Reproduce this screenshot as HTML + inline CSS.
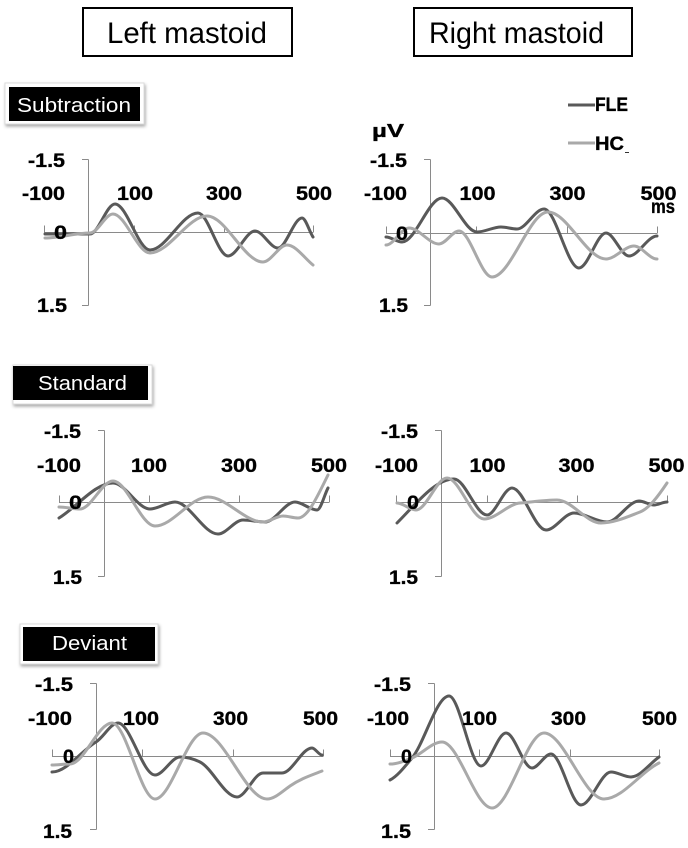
<!DOCTYPE html>
<html><head><meta charset="utf-8"><style>
html,body{margin:0;padding:0;background:#fff;}
svg{display:block;}
text{font-family:"Liberation Sans",sans-serif;}
.t{font-size:19px;font-weight:bold;fill:#000;stroke:#000;stroke-width:0.35;}
.ax{stroke:#8a8a8a;stroke-width:1;fill:none;shape-rendering:crispEdges;}
.fle{stroke:#595959;stroke-width:3;fill:none;stroke-linejoin:round;stroke-linecap:round;}
.hc{stroke:#a9a9a9;stroke-width:3;fill:none;stroke-linejoin:round;stroke-linecap:round;}
.lab{font-size:20px;fill:#fff;}
.ttl{font-size:30px;fill:#000;}
</style></head><body>
<svg width="688" height="848" viewBox="0 0 688 848" xmlns="http://www.w3.org/2000/svg">
<defs>
<filter id="sh" x="-10%" y="-20%" width="130%" height="160%">
<feDropShadow dx="1" dy="2" stdDeviation="1.5" flood-color="#000" flood-opacity="0.35"/>
</filter>
</defs>

<!-- Titles -->
<rect x="83" y="8" width="209" height="48" fill="#fff" stroke="#000" stroke-width="2"/>
<text class="ttl" x="107" y="43" textLength="160" lengthAdjust="spacingAndGlyphs">Left mastoid</text>
<rect x="414" y="8" width="218" height="48" fill="#fff" stroke="#000" stroke-width="2"/>
<text class="ttl" x="429" y="43" textLength="175" lengthAdjust="spacingAndGlyphs">Right mastoid</text>

<!-- Section labels -->
<rect x="5" y="83" width="139" height="41" fill="#fff" stroke="#dcdcdc" stroke-width="1" filter="url(#sh)"/>
<rect x="9" y="87" width="131" height="34" fill="#000"/>
<text class="lab" x="17" y="112" textLength="114" lengthAdjust="spacingAndGlyphs">Subtraction</text>

<rect x="13" y="365" width="139" height="39" fill="#fff" stroke="#dcdcdc" stroke-width="1" filter="url(#sh)"/>
<rect x="13" y="366" width="135" height="34" fill="#000"/>
<text class="lab" x="38" y="390" textLength="89" lengthAdjust="spacingAndGlyphs">Standard</text>

<rect x="20" y="624" width="138" height="40" fill="#fff" stroke="#dcdcdc" stroke-width="1" filter="url(#sh)"/>
<rect x="23" y="627" width="132" height="34" fill="#000"/>
<text class="lab" x="52" y="650" textLength="75" lengthAdjust="spacingAndGlyphs">Deviant</text>

<!-- Legend -->
<line x1="568" y1="105" x2="595" y2="105" stroke="#595959" stroke-width="3"/>
<text class="t" x="595" y="111" textLength="33" lengthAdjust="spacingAndGlyphs">FLE</text>
<line x1="568" y1="143" x2="595" y2="143" stroke="#a9a9a9" stroke-width="3"/>
<text class="t" x="595" y="150" textLength="29" lengthAdjust="spacingAndGlyphs">HC</text>
<line x1="625" y1="152.5" x2="629" y2="152.5" stroke="#333" stroke-width="1"/>

<!-- ========== Subtraction Left ========== -->
<g class="ax">
<path d="M88.5 159.5V305.5M82 159.5H88.5M82 305.5H88.5"/>
<path d="M44 232.5H313M44.5 225.5V232.5M134.5 225.5V232.5M224.5 225.5V232.5M313.5 225.5V232.5"/>
</g>
<path class="fle" d="M45,234 L90,234 C98.3,234 106.7,204 115,204 C126.7,204 138.3,250 150,250 C166,250 182,213 198,213 C208,213 218,256 228,256 C237,256 246,231 255,231 C262.7,231 270.3,248 278,248 C286,248 294,218 302,218 C305.7,218 309.3,231.5 313,237"/>
<path class="hc" d="M45,238 C60,238 75,233 90,233 C97.7,233 105.3,214 113,214 C125.3,214 137.7,253 150,253 C169,253 188,216 207,216 C225.7,216 244.3,262 263,262 C271,262 279,245 287,245 C295.7,245 304.3,258 313,265"/>
<g class="t">
<text x="65" y="167" text-anchor="end" textLength="37" lengthAdjust="spacingAndGlyphs">-1.5</text>
<text x="65" y="200" text-anchor="end" textLength="43" lengthAdjust="spacingAndGlyphs">-100</text>
<text x="135" y="200" text-anchor="middle" textLength="36" lengthAdjust="spacingAndGlyphs">100</text>
<text x="224" y="200" text-anchor="middle" textLength="36" lengthAdjust="spacingAndGlyphs">300</text>
<text x="314" y="200" text-anchor="middle" textLength="36" lengthAdjust="spacingAndGlyphs">500</text>
<text x="67" y="239" text-anchor="end" textLength="13" lengthAdjust="spacingAndGlyphs">0</text>
<text x="67" y="312" text-anchor="end" textLength="30" lengthAdjust="spacingAndGlyphs">1.5</text>
</g>

<!-- ========== Subtraction Right ========== -->
<g class="ax">
<path d="M430.5 159.5V305.5M424 159.5H430.5M424 305.5H430.5"/>
<path d="M386 233.5H657M386.5 226.5V233.5M476.5 226.5V233.5M567.5 226.5V233.5M657.5 226.5V233.5"/>
</g>
<path class="fle" d="M386,237 C391.3,237 396.7,242 402,242 C415.3,242 428.7,198 442,198 C453.7,198 465.3,232 477,232 C485,232 493,227 501,227 C506.3,227 511.7,229 517,229 C526,229 535,209 544,209 C555.7,209 567.3,268 579,268 C588,268 597,233 606,233 C613.7,233 621.3,256 629,256 C638.3,256 647.7,236 657,236"/>
<path class="hc" d="M386,245 C393.7,245 401.3,228 409,228 C419,228 429,244 439,244 C445.7,244 452.3,231 459,231 C470,231 481,277 492,277 C510.7,277 529.3,212 548,212 C567.3,212 586.7,259 606,259 C615.3,259 624.7,246 634,246 C641.7,246 649.3,259 657,259"/>
<g class="t">
<text x="372" y="137" textLength="32" lengthAdjust="spacingAndGlyphs" style="font-size:18px">µV</text>
<text x="407" y="167" text-anchor="end" textLength="37" lengthAdjust="spacingAndGlyphs">-1.5</text>
<text x="407" y="200" text-anchor="end" textLength="43" lengthAdjust="spacingAndGlyphs">-100</text>
<text x="477.5" y="200" text-anchor="middle" textLength="36" lengthAdjust="spacingAndGlyphs">100</text>
<text x="567.5" y="200" text-anchor="middle" textLength="36" lengthAdjust="spacingAndGlyphs">300</text>
<text x="658.5" y="200" text-anchor="middle" textLength="36" lengthAdjust="spacingAndGlyphs">500</text>
<text x="651" y="213" textLength="24" lengthAdjust="spacingAndGlyphs">ms</text>
<text x="408" y="240" text-anchor="end" textLength="12" lengthAdjust="spacingAndGlyphs">0</text>
<text x="408" y="312" text-anchor="end" textLength="29" lengthAdjust="spacingAndGlyphs">1.5</text>
</g>

<!-- ========== Standard Left ========== -->
<g class="ax">
<path d="M104.5 430.5V576.5M98 430.5H104.5M98 576.5H104.5"/>
<path d="M59 502.5H329M59.5 495.5V502.5M149.5 495.5V502.5M239.5 495.5V502.5M329.5 495.5V502.5"/>
</g>
<path class="fle" d="M59,518 C77,507 95,483 113,483 C125.3,483 137.7,509 150,509 C158.3,509 166.7,502 175,502 C189.3,502 203.7,534 218,534 C226.3,534 234.7,520 243,520 C250.3,520 257.7,522 265,522 C275,522 285,502 295,502 C302.3,502 309.7,510 317,510 C320.7,510 324.3,495 328,488"/>
<path class="hc" d="M59,507 C66,507 73,509 80,509 C91,509 102,481 113,481 C127,481 141,526 155,526 C172.7,526 190.3,497 208,497 C226.3,497 244.7,522 263,522 C269.7,522 276.3,516 283,516 C288,516 293,518 298,518 C308,518 318,495 328,475"/>
<g class="t">
<text x="81" y="438" text-anchor="end" textLength="37" lengthAdjust="spacingAndGlyphs">-1.5</text>
<text x="81" y="472" text-anchor="end" textLength="44" lengthAdjust="spacingAndGlyphs">-100</text>
<text x="149" y="472" text-anchor="middle" textLength="36" lengthAdjust="spacingAndGlyphs">100</text>
<text x="239" y="472" text-anchor="middle" textLength="36" lengthAdjust="spacingAndGlyphs">300</text>
<text x="329" y="472" text-anchor="middle" textLength="36" lengthAdjust="spacingAndGlyphs">500</text>
<text x="82" y="509" text-anchor="end" textLength="13" lengthAdjust="spacingAndGlyphs">0</text>
<text x="82" y="584" text-anchor="end" textLength="29" lengthAdjust="spacingAndGlyphs">1.5</text>
</g>

<!-- ========== Standard Right ========== -->
<g class="ax">
<path d="M441.5 430.5V576.5M435 430.5H441.5M435 576.5H441.5"/>
<path d="M396 502.5H667M396.5 495.5V502.5M487.5 495.5V502.5M577.5 495.5V502.5M667.5 495.5V502.5"/>
</g>
<path class="fle" d="M397,523 C416,504 435,479 454,479 C465,479 476,515 487,515 C495.3,515 503.7,488 512,488 C523.3,488 534.7,530 546,530 C555.3,530 564.7,513 574,513 C585,513 596,522 607,522 C617.7,522 628.3,501 639,501 C644,501 649,505 654,505 C658.3,505 662.7,502 667,502"/>
<path class="hc" d="M397,503 C403.3,503 409.7,510 416,510 C426.3,510 436.7,478 447,478 C459.3,478 471.7,519 484,519 C496,519 508,504 520,503 C532,502 545,500 557,500 C571.7,500 586.3,523 601,523 C614,523 627,517 640,512 C649,508.4 658,496.5 667,483"/>
<g class="t">
<text x="418" y="438" text-anchor="end" textLength="37" lengthAdjust="spacingAndGlyphs">-1.5</text>
<text x="418" y="472" text-anchor="end" textLength="43" lengthAdjust="spacingAndGlyphs">-100</text>
<text x="487.5" y="472" text-anchor="middle" textLength="36" lengthAdjust="spacingAndGlyphs">100</text>
<text x="576.5" y="472" text-anchor="middle" textLength="36" lengthAdjust="spacingAndGlyphs">300</text>
<text x="666.5" y="472" text-anchor="middle" textLength="36" lengthAdjust="spacingAndGlyphs">500</text>
<text x="419" y="509" text-anchor="end" textLength="12" lengthAdjust="spacingAndGlyphs">0</text>
<text x="418" y="584" text-anchor="end" textLength="29" lengthAdjust="spacingAndGlyphs">1.5</text>
</g>

<!-- ========== Deviant Left ========== -->
<g class="ax">
<path d="M96.5 683.5V829.5M90 683.5H96.5M90 829.5H96.5"/>
<path d="M52 756.5H323M52.5 749.5V756.5M142.5 749.5V756.5M233.5 749.5V756.5M323.5 749.5V756.5"/>
</g>
<path class="fle" d="M52,772 C66.7,772 81.3,750.8 96,742 C103.3,737.6 110.7,723 118,723 C130.3,723 142.7,775 155,775 C163.3,775 171.7,757 180,757 C186.7,757 193.3,758.7 200,762 C212.3,768.2 224.7,797 237,797 C245.7,797 254.3,773 263,773 C269.3,773 275.7,773 282,773 C292,773 302,748 312,748 C315.3,748 318.7,755 322,755"/>
<path class="hc" d="M52,765 C58,765 64,764 70,764 C84,764 98,723 112,723 C126.3,723 140.7,799 155,799 C171,799 187,733 203,733 C224.3,733 245.7,799 267,799 C274.7,799 282.3,791.4 290,786 C300.7,778.5 311.3,775.3 322,771"/>
<g class="t">
<text x="73" y="691" text-anchor="end" textLength="38" lengthAdjust="spacingAndGlyphs">-1.5</text>
<text x="72" y="725" text-anchor="end" textLength="44" lengthAdjust="spacingAndGlyphs">-100</text>
<text x="141" y="725" text-anchor="middle" textLength="36" lengthAdjust="spacingAndGlyphs">100</text>
<text x="230.5" y="725" text-anchor="middle" textLength="35" lengthAdjust="spacingAndGlyphs">300</text>
<text x="320.5" y="725" text-anchor="middle" textLength="35" lengthAdjust="spacingAndGlyphs">500</text>
<text x="74" y="763" text-anchor="end" textLength="11" lengthAdjust="spacingAndGlyphs">0</text>
<text x="72" y="838" text-anchor="end" textLength="29" lengthAdjust="spacingAndGlyphs">1.5</text>
</g>

<!-- ========== Deviant Right ========== -->
<g class="ax">
<path d="M434.5 683.5V829.5M428 683.5H434.5M428 829.5H434.5"/>
<path d="M390 756.5H659M390.5 749.5V756.5M479.5 749.5V756.5M570.5 749.5V756.5M659.5 749.5V756.5"/>
</g>
<path class="fle" d="M390,780 C397.3,776.3 404.7,766.8 412,758 C424.3,743.2 436.7,696 449,696 C459.7,696 470.3,766 481,766 C489.3,766 497.7,733 506,733 C514.7,733 523.3,768 532,768 C538.3,768 544.7,754 551,754 C561,754 571,805 581,805 C591,805 601,772 611,772 C617.7,772 624.3,777 631,777 C640.3,777 649.7,763.5 659,757"/>
<path class="hc" d="M390,764 C397.3,764 404.7,760.9 412,758 C422,754 432,742 442,742 C458.7,742 475.3,808 492,808 C509.3,808 526.7,733 544,733 C564,733 584,799 604,799 C622.3,799 640.7,772 659,763"/>
<g class="t">
<text x="411" y="691" text-anchor="end" textLength="37" lengthAdjust="spacingAndGlyphs">-1.5</text>
<text x="409" y="725" text-anchor="end" textLength="42" lengthAdjust="spacingAndGlyphs">-100</text>
<text x="479.5" y="725" text-anchor="middle" textLength="35" lengthAdjust="spacingAndGlyphs">100</text>
<text x="568.5" y="725" text-anchor="middle" textLength="35" lengthAdjust="spacingAndGlyphs">300</text>
<text x="659.5" y="725" text-anchor="middle" textLength="35" lengthAdjust="spacingAndGlyphs">500</text>
<text x="412" y="763" text-anchor="end" textLength="11" lengthAdjust="spacingAndGlyphs">0</text>
<text x="411" y="838" text-anchor="end" textLength="30" lengthAdjust="spacingAndGlyphs">1.5</text>
</g>
</svg>
</body></html>
